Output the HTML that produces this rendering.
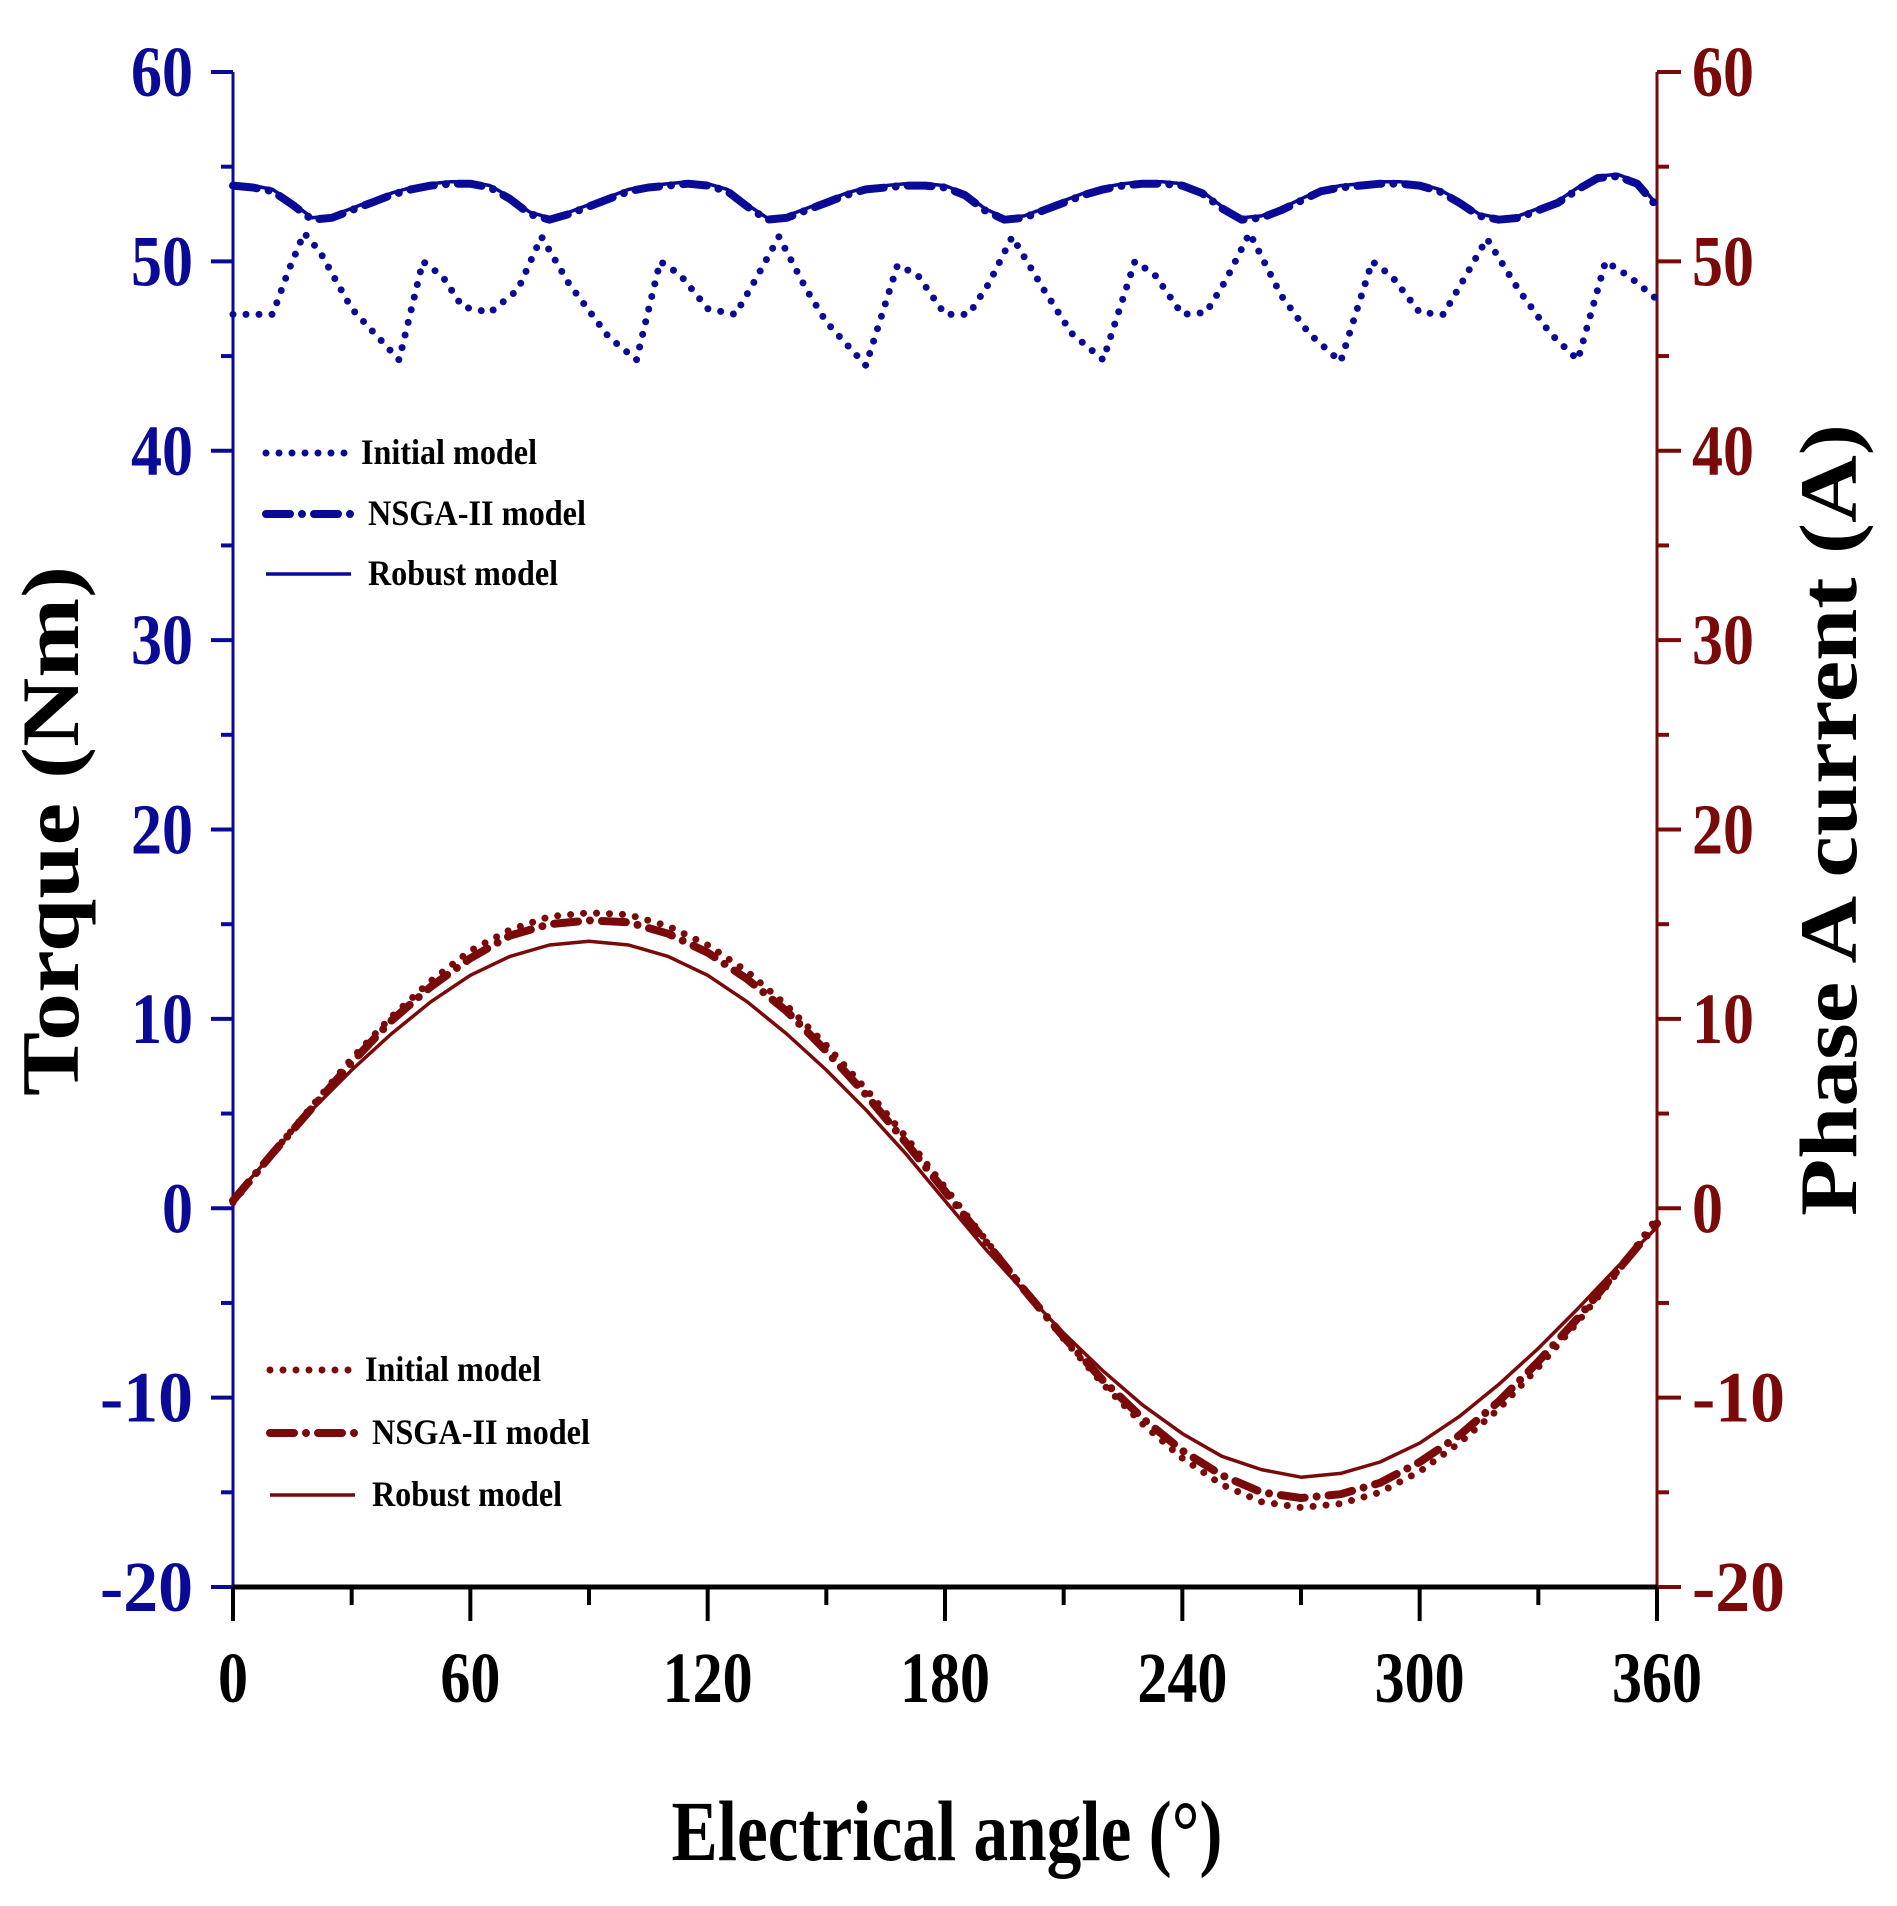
<!DOCTYPE html>
<html><head><meta charset="utf-8"><style>
html,body{margin:0;padding:0;background:#fff;}
svg{display:block;}
text{font-family:"Liberation Serif",serif;font-weight:bold;}
</style></head><body>
<svg id="chart" width="1897" height="1906" viewBox="0 0 1897 1906" xmlns="http://www.w3.org/2000/svg">
<g id="axes"></g><g id="series"></g><g id="legends"></g>
<text x="0" y="0" transform="translate(78,831) rotate(-90)" text-anchor="middle" font-size="82" fill="#000" textLength="530" lengthAdjust="spacingAndGlyphs">Torque (Nm)</text>
<text x="0" y="0" transform="translate(1856,820) rotate(-90)" text-anchor="middle" font-size="82" fill="#000" textLength="792" lengthAdjust="spacingAndGlyphs">Phase A current (A)</text>
<text x="947" y="1860" text-anchor="middle" font-size="86" fill="#000" textLength="551" lengthAdjust="spacingAndGlyphs">Electrical angle (°)</text>
</svg>
<script>
const xTicks = [0,60,120,180,240,300,360];
const yTicks = [60,50,40,30,20,10,0,-10,-20];
const curAngles = [0,10,20,30,40,50,60,70,80,90,100,110,120,130,140,150,160,170,180,190,200,210,220,230,240,250,260,270,280,290,300,310,320,330,340,350,360];
const robustCurrent = [0.5,2.9,5.2,7.3,9.2,10.9,12.3,13.3,13.9,14.1,13.9,13.3,12.3,10.9,9.2,7.3,5.2,2.9,0.4,-2.1,-4.4,-6.6,-8.6,-10.4,-11.9,-13.1,-13.8,-14.2,-14.0,-13.4,-12.4,-11.0,-9.3,-7.4,-5.3,-3.1,-1.0];
const initialCurrent = [0.3,2.9,5.4,7.9,10.1,12.0,13.6,14.7,15.4,15.6,15.5,14.9,13.9,12.5,10.7,8.6,6.3,3.8,1.1,-1.6,-4.3,-6.9,-9.3,-11.4,-13.2,-14.6,-15.5,-15.8,-15.6,-15.0,-13.9,-12.4,-10.6,-8.4,-6.0,-3.4,-0.5];
const nsgaCurrent = [0.4,2.9,5.3,7.7,9.9,11.7,13.2,14.4,15.0,15.2,15.1,14.5,13.5,12.1,10.4,8.3,6.0,3.5,0.9,-1.7,-4.3,-6.8,-9.1,-11.1,-12.8,-14.1,-15.0,-15.3,-15.1,-14.5,-13.4,-12.0,-10.2,-8.1,-5.8,-3.3,-0.8];
const torqueAngles = Array.from({length:73},(_,i)=>i*5);
const robustTorque = [54.1,54.0,53.8,53.1,52.3,52.4,52.8,53.2,53.6,53.9,54.1,54.2,54.2,
54.0,53.4,52.6,52.3,52.6,53.0,53.4,53.8,54.0,54.1,54.2,54.1,
53.8,53.0,52.3,52.4,52.8,53.2,53.6,53.9,54.0,54.1,54.1,54.0,
53.6,52.8,52.3,52.4,52.8,53.2,53.6,53.9,54.1,54.2,54.2,54.1,
53.7,52.9,52.3,52.4,52.8,53.3,53.8,54.0,54.1,54.2,54.2,54.1,
53.8,53.2,52.5,52.3,52.4,52.8,53.2,53.9,54.5,54.6,54.2,53.0];
const nsgaTorque = [54.0,53.9,53.7,53.0,52.2,52.3,52.7,53.1,53.5,53.8,54.0,54.1,54.1,
53.9,53.3,52.5,52.2,52.5,52.9,53.3,53.7,53.9,54.0,54.1,54.0,
53.7,52.9,52.2,52.3,52.7,53.1,53.5,53.8,53.9,54.0,54.0,53.9,
53.5,52.7,52.2,52.3,52.7,53.1,53.5,53.8,54.0,54.1,54.1,54.0,
53.6,52.8,52.2,52.3,52.7,53.2,53.7,53.9,54.0,54.1,54.1,54.0,
53.7,53.1,52.4,52.2,52.3,52.7,53.1,53.8,54.4,54.5,54.1,52.9];
const initAngles = [0,10,14,18,22,30,42,48,53,58,65,72,78,85,95,102,108,113,120,127,132,138,145,150,160,168,173,180,186,191,197,205,212,220,228,233,240,246,251,257,265,272,280,288,293,300,306,311,317,325,333,340,347,353,360];
const initTorque = [47.2,47.2,49.5,51.5,50.5,47.5,44.8,50.0,49.2,47.6,47.3,48.5,51.3,48.8,46.0,44.8,50.0,49.3,47.5,47.2,49.0,51.3,48.5,46.8,44.5,49.8,49.3,47.2,47.2,48.8,51.3,48.5,46.2,44.8,50.0,49.3,47.2,47.3,49.0,51.5,48.2,46.2,44.7,50.0,49.2,47.3,47.2,49.0,51.2,48.5,46.2,44.8,50.0,49.2,48.0];

const X0=233, X1=1657, Y0=72, Y1=1587;
const xS = v => X0 + (v/360)*(X1-X0);
const yS = v => Y0 + (60-v)/80*(Y1-Y0);
const NS='http://www.w3.org/2000/svg';
const BLUE='#0a0a96', RED='#7a0a0a';
function mk(tag, attrs, parent){const e=document.createElementNS(NS,tag);for(const k in attrs)e.setAttribute(k,attrs[k]);parent.appendChild(e);return e;}
const axes=document.getElementById('axes'), series=document.getElementById('series'), legends=document.getElementById('legends');

let la=mk('line',{x1:X0,y1:Y0,x2:X0,y2:Y1,stroke:BLUE,'stroke-width':3},axes);


let ra=mk('line',{x1:X1,y1:Y0,x2:X1,y2:Y1,stroke:RED,'stroke-width':3},axes);


for(let v=60; v>=-20; v-=5){
  const major = v%10===0;
  const y=yS(v);
  mk('line',{x1:X0-(major?22:12),y1:y,x2:X0,y2:y,stroke:BLUE,'stroke-width':4},axes);
  mk('line',{x1:X1,y1:y,x2:X1+(major?24:12),y2:y,stroke:RED,'stroke-width':4},axes);
}
yTicks.forEach(v=>{
  const y=yS(v)+24;
  const s=String(v);
  const w = s.length*31;
  let t=mk('text',{x:193,y:y,'text-anchor':'end','font-size':72,fill:BLUE,textLength:w,lengthAdjust:'spacingAndGlyphs'},axes);
  t.textContent=s;
  
  
  let t2=mk('text',{x:1692,y:y,'text-anchor':'start','font-size':72,fill:RED,textLength:w,lengthAdjust:'spacingAndGlyphs'},axes);
  t2.textContent=s;
  
  
});
let xa=mk('line',{x1:X0,y1:Y1,x2:X1,y2:Y1,stroke:'#000','stroke-width':5},axes);


for(let v=0; v<=360; v+=30){
  const major=v%60===0;
  mk('line',{x1:xS(v),y1:Y1,x2:xS(v),y2:Y1+(major?34:18),stroke:'#000','stroke-width':4},axes);
}
xTicks.forEach(v=>{
  const s=String(v);
  let t=mk('text',{x:xS(v),y:1702,'text-anchor':'middle','font-size':72,fill:'#000',textLength:s.length*30,lengthAdjust:'spacingAndGlyphs'},axes);
  t.textContent=s;
  
  
});

function pts(xs,ys){return xs.map((a,i)=>xS(a).toFixed(1)+','+yS(ys[i]).toFixed(1)).join(' ');}
const styles={
  initial:{'stroke-width':7,'stroke-dasharray':'0 13','stroke-linecap':'round'},
  nsga:{'stroke-width':8,'stroke-dasharray':'24 12 0 12','stroke-linecap':'round'},
  robust:{'stroke-width':3.5}
};
function line(xs,ys,color,style){
  const a=Object.assign({points:pts(xs,ys),fill:'none',stroke:color,'stroke-linejoin':'round'},styles[style]);
  return mk('polyline',a,series);
}
let p;
p=line(torqueAngles,nsgaTorque,BLUE,'nsga');


p=line(torqueAngles,robustTorque,BLUE,'robust');


p=line(initAngles,initTorque,BLUE,'initial');


p=line(curAngles,nsgaCurrent,RED,'nsga');


p=line(curAngles,robustCurrent,RED,'robust');


p=line(curAngles,initialCurrent,RED,'initial');



function legend(x0,ys,color,prefix){
  const labels=['Initial model','NSGA-II model','Robust model'];
  const keys=['initial','nsga','robust'];
  const lens=[176,218,190];
  ys.forEach((y,i)=>{
    const g=mk('g',{},legends);
    
    
    mk('line',Object.assign({x1:x0,y1:y,x2:x0+85,y2:y,stroke:color},styles[keys[i]]),g);
    const t=mk('text',{x:x0+(i===0?95:102),y:y+11,'font-size':36,fill:'#000',textLength:lens[i],lengthAdjust:'spacingAndGlyphs'},g);
    t.textContent=labels[i];
  });
}
legend(266,[453,514,574],BLUE,'torque');
legend(270,[1370,1433,1495],RED,'current');
</script>
</body></html>
